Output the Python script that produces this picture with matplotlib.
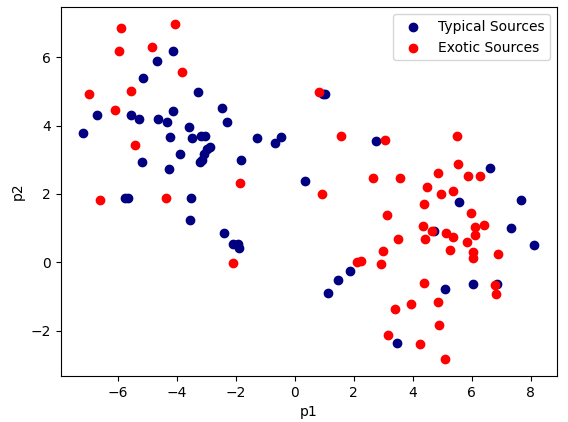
import matplotlib
matplotlib.use("Agg")
import matplotlib.pyplot as plt

# typical sources (navy)
typ_p1 = [-4.13, -4.67, -5.15, -3.28, -6.71, -5.56, -5.28, -4.64, -4.34, -4.13,
          -2.47, -2.29, -7.16, -3.59, -4.23, -3.49, -3.16, -3.03, -2.85, -2.97,
          -3.08, -3.14, -3.19, -3.89, -5.18, -4.27, -1.83, -1.28, -0.67, -0.47,
          0.37, -5.76, -5.66, -3.52, -3.56, -2.38, -2.08, -1.93, -1.87,
          0.95, 1.02, 2.75, 6.64, 5.56, 7.69, 4.72, 7.35, 8.12, 1.87, 1.46,
          1.12, 6.06, 6.86, 5.11, 3.46]
typ_p2 = [6.18, 5.88, 5.39, 4.98, 4.31, 4.31, 4.20, 4.20, 4.10, 4.43,
          4.52, 4.11, 3.79, 3.97, 3.67, 3.64, 3.70, 3.70, 3.37, 3.32,
          3.18, 3.00, 2.94, 3.16, 2.94, 2.74, 3.00, 3.64, 3.50, 3.67,
          2.39, 1.87, 1.89, 1.89, 1.25, 0.87, 0.55, 0.53, 0.43,
          4.93, 4.91, 3.56, 2.77, 1.78, 1.81, 0.93, 1.02, 0.52, -0.26, -0.50,
          -0.90, -0.64, -0.64, -0.79, -2.35]

# exotic sources (red)
exo_p1 = [-5.87, -4.06, -5.96, -4.83, -3.83, -6.98, -5.56, -6.10, -5.42, -1.86,
          -6.61, -4.37, -2.07,
          0.82, 1.59, 3.05, 5.50, 5.53, 4.85, 5.87, 6.27, 2.65, 3.56, 4.48,
          4.95, 5.38, 0.92,
          4.38, 5.97, 3.12, 4.34, 4.66, 6.10, 6.41, 5.13, 5.38, 6.11, 5.86,
          3.52, 4.41, 5.26, 6.06, 6.06, 6.89, 2.99, 2.94, 2.12, 2.25, 4.38,
          6.80, 6.82, 4.85, 3.94, 3.39, 4.88, 3.16, 4.25, 5.11]
exo_p2 = [6.85, 6.97, 6.18, 6.30, 5.57, 4.92, 5.01, 4.46, 3.44, 2.33,
          1.83, 1.87, -0.03,
          4.99, 3.70, 3.59, 3.70, 2.89, 2.62, 2.52, 2.54, 2.48, 2.48, 2.20,
          1.99, 2.08, 2.01,
          1.72, 1.43, 1.40, 1.05, 0.93, 1.03, 1.09, 0.85, 0.73, 0.79, 0.61,
          0.67, 0.67, 0.35, 0.31, 0.12, 0.24, 0.32, -0.06, 0.00, 0.03, -0.61,
          -0.66, -0.93, -1.17, -1.22, -1.37, -1.83, -2.12, -2.39, -2.83]

fig, ax = plt.subplots(figsize=(5.68, 4.22), dpi=100)
fig.subplots_adjust(left=0.107, right=0.980, top=0.983, bottom=0.109)

ax.scatter(typ_p1, typ_p2, color='navy', label='Typical Sources')
ax.scatter(exo_p1, exo_p2, color='red', label='Exotic Sources')

ax.set_xlabel('p1')
ax.set_ylabel('p2')
ax.legend(loc='upper right')

plt.savefig('out.png')
